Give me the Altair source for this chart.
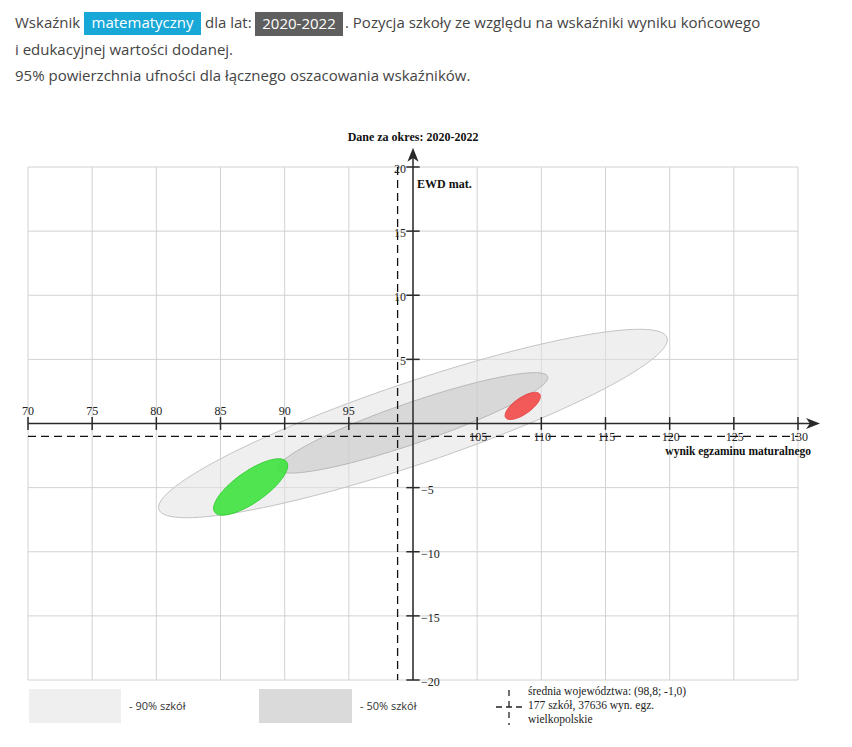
import altair as alt
import pandas as pd

W, H = 852, 747

# ---------------- data ----------------
x_ticks = [70, 75, 80, 85, 90, 95, 100, 105, 110, 115, 120, 125, 130]
y_ticks = [-20, -15, -10, -5, 0, 5, 10, 15, 20]

origin_x = 100
origin_y = 0

mean_x = 98.8
mean_y = -1.0
n_schools = 177
n_exams = 37636
region = "wielkopolskie"
period = "2020-2022"
subject = "matematyczny"

# confidence ellipses (center, semi-axes, rotation in degrees)
ell_names = ["90% szkół", "50% szkół", "szkoła A", "szkoła B"]
ell_cx = [100.0, 100.0, 87.35, 108.55]
ell_cy = [0.0, 0.05, -4.95, 1.37]
ell_a = [20.9, 11.1, 3.42, 1.61]
ell_b = [3.18, 1.59, 1.21, 0.64]
ell_ang = [18.7, 19.0, 35.0, 34.7]

# styles
ell_fill = ["#e2e2e2", "#c2c2c2", "#3fe23f", "#f24848"]
ell_fill_op = [0.55, 0.5, 0.9, 0.9]
ell_stroke = ["#c4c4c4", "#b8b8b8", "#36d036", "#e84444"]

SERIF = "Liberation Serif"
SANS = "Open Sans"

xs = alt.Scale(domain=[70, 130], range=[28, 798], nice=False, zero=False)
ys = alt.Scale(domain=[-20, 20], range=[680, 167], nice=False, zero=False)

dummy = alt.Data(values=[{"d": 0}])


def XQ(f):
    return alt.X(f, type="quantitative", scale=xs, axis=None)


def YQ(f):
    return alt.Y(f, type="quantitative", scale=ys, axis=None)


def txt(s, x, y, **kw):
    return alt.Chart(dummy).mark_text(text=s, **kw).encode(
        x=alt.value(x), y=alt.value(y))


def prect(x1, x2, y1, y2, **kw):
    return alt.Chart(dummy).mark_rect(**kw).encode(
        x=alt.value(x1), x2=alt.value(x2), y=alt.value(y1), y2=alt.value(y2))


def prule(x1, x2, y1, y2, **kw):
    return alt.Chart(dummy).mark_rule(**kw).encode(
        x=alt.value(x1), x2=alt.value(x2), y=alt.value(y1), y2=alt.value(y2))


layers = []

# ---------------- grid ----------------
xt = pd.DataFrame({"v": x_ticks})
yt = pd.DataFrame({"v": y_ticks})
layers.append(alt.Chart(xt).mark_rule(color="#d2d2d2", strokeWidth=1).encode(
    x=XQ("v"), y=alt.Y(datum=y_ticks[0], scale=ys, axis=None), y2=alt.Y2(datum=y_ticks[-1])))
layers.append(alt.Chart(yt).mark_rule(color="#d2d2d2", strokeWidth=1).encode(
    y=YQ("v"), x=alt.X(datum=x_ticks[0], scale=xs, axis=None), x2=alt.X2(datum=x_ticks[-1])))

# ---------------- ellipses ----------------
for i in range(len(ell_names)):
    cx, cy, a, b, ang = ell_cx[i], ell_cy[i], ell_a[i], ell_b[i], ell_ang[i]
    ex = (f"{cx} + {a}*cos(datum.t*PI/180)*cos({ang}*PI/180)"
          f" - {b}*sin(datum.t*PI/180)*sin({ang}*PI/180)")
    ey = (f"{cy} + {a}*cos(datum.t*PI/180)*sin({ang}*PI/180)"
          f" + {b}*sin(datum.t*PI/180)*cos({ang}*PI/180)")
    layers.append(
        alt.Chart(alt.sequence(0, 361, 3, as_="t"))
        .transform_calculate(ex=ex, ey=ey)
        .mark_line(fill=ell_fill[i], fillOpacity=ell_fill_op[i],
                   stroke=ell_stroke[i], strokeWidth=1)
        .encode(x=XQ("ex"), y=YQ("ey"), order=alt.Order("t:Q"))
    )

# ---------------- mean (dashed) lines ----------------
layers.append(alt.Chart(dummy).mark_rule(color="#111", strokeWidth=1.3, strokeDash=[8, 5]).encode(
    y=alt.Y(datum=mean_y, scale=ys, axis=None),
    x=alt.X(datum=x_ticks[0], scale=xs, axis=None), x2=alt.X2(datum=x_ticks[-1])))
layers.append(alt.Chart(dummy).mark_rule(color="#111", strokeWidth=1.3, strokeDash=[8, 5]).encode(
    x=alt.X(datum=mean_x, scale=xs, axis=None),
    y=alt.Y(datum=y_ticks[-1], scale=ys, axis=None), y2=alt.Y2(datum=y_ticks[0])))

# ---------------- axes through origin ----------------
AX = "#2a2a2a"
layers.append(alt.Chart(dummy).mark_rule(color=AX, strokeWidth=1.5).encode(
    y=alt.Y(datum=origin_y, scale=ys, axis=None),
    x=alt.X(datum=x_ticks[0], scale=xs, axis=None), x2=alt.X2(datum=131.3)))
layers.append(alt.Chart(dummy).mark_rule(color=AX, strokeWidth=1.5).encode(
    x=alt.X(datum=origin_x, scale=xs, axis=None),
    y=alt.Y(datum=y_ticks[0], scale=ys, axis=None), y2=alt.Y2(datum=21.0)))

arrow = "M1,0 L-1,-0.8 L-0.45,0 L-1,0.8 Z"
layers.append(alt.Chart(dummy).mark_point(shape=arrow, filled=True, color=AX, size=196, opacity=1).encode(
    x=alt.X(datum=131.17, scale=xs, axis=None), y=alt.Y(datum=origin_y, scale=ys, axis=None)))
layers.append(alt.Chart(dummy).mark_point(shape=arrow, filled=True, color=AX, size=196, opacity=1, angle=270).encode(
    x=alt.X(datum=origin_x, scale=xs, axis=None), y=alt.Y(datum=20.95, scale=ys, axis=None)))

# ticks
layers.append(alt.Chart(xt).transform_filter(f"datum.v != {origin_x}").mark_rule(color=AX, strokeWidth=1.5).encode(
    x=XQ("v"), y=alt.Y(datum=-0.5, scale=ys, axis=None), y2=alt.Y2(datum=0.5)))
layers.append(alt.Chart(yt).transform_filter(f"datum.v != {origin_y}").mark_rule(color=AX, strokeWidth=1.5).encode(
    y=YQ("v"), x=alt.X(datum=99.48, scale=xs, axis=None), x2=alt.X2(datum=100.52)))

# tick labels
lab = dict(font=SERIF, fontSize=12, color="#222", baseline="middle")
layers.append(alt.Chart(xt).transform_filter(f"datum.v < {origin_x}").mark_text(align="center", dy=-13, **lab).encode(
    x=XQ("v"), y=alt.Y(datum=origin_y, scale=ys, axis=None), text="v:Q"))
layers.append(alt.Chart(xt).transform_filter(f"datum.v > {origin_x}").mark_text(align="center", dy=13, dx=1, **lab).encode(
    x=XQ("v"), y=alt.Y(datum=origin_y, scale=ys, axis=None), text="v:Q"))
layers.append(alt.Chart(yt).transform_filter(f"datum.v > {origin_y}").mark_text(align="right", dx=-7, dy=2, **lab).encode(
    y=YQ("v"), x=alt.X(datum=origin_x, scale=xs, axis=None), text="v:Q"))
layers.append(alt.Chart(yt).transform_filter(f"datum.v < {origin_y}").mark_text(align="left", dx=8, dy=2, **lab).encode(
    y=YQ("v"), x=alt.X(datum=origin_x, scale=xs, axis=None), text="v:Q"))

# axis titles
layers.append(txt(f"Dane za okres: {period}", 413, 137, font=SERIF, fontSize=12, fontWeight="bold",
                  align="center", baseline="middle", color="#111"))
layers.append(txt("EWD mat.", 417, 184, font=SERIF, fontSize=12, fontWeight="bold",
                  align="left", baseline="middle", color="#111"))
layers.append(txt("wynik egzaminu maturalnego", 811, 452, font=SERIF, fontSize=11.5, fontWeight="bold",
                  align="right", baseline="middle", color="#111"))

# ---------------- legend ----------------
layers.append(prect(29, 121, 689, 723, fill="#efefef"))
layers.append(txt("- " + ell_names[0], 129, 707, font=SANS, fontSize=11, align="left", baseline="middle", color="#333"))
layers.append(prect(259, 352, 689, 723, fill="#dadada"))
layers.append(txt("- " + ell_names[1], 360, 707, font=SANS, fontSize=11, align="left", baseline="middle", color="#333"))
layers.append(prule(496, 523, 707, 707, color="#222", strokeWidth=1.3, strokeDash=[6, 4]))
layers.append(prule(509, 509, 690, 725, color="#222", strokeWidth=1.3, strokeDash=[6, 5]))
mean_txt = f"średnia województwa: ({mean_x:.1f}; {mean_y:.1f})".replace(".", ",")
leg = dict(font=SERIF, fontSize=11.5, align="left", baseline="middle", color="#222")
layers.append(txt(mean_txt, 528, 692, **leg))
layers.append(txt(f"{n_schools} szkół, {n_exams} wyn. egz.", 528, 706, **leg))
layers.append(txt(region, 528, 720, **leg))

# ---------------- header ----------------
hd = dict(font=SANS, fontSize=15, baseline="middle", color="#444")
layers.append(txt("Wskaźnik", 15, 23, align="left", **hd))
layers.append(prect(84, 201, 12, 35, fill="#17a8d8"))
layers.append(txt(subject, 142.5, 23, align="center", font=SANS, fontSize=15, baseline="middle", color="white"))
layers.append(txt("dla lat:", 205, 23, align="left", **hd))
layers.append(prect(255, 343, 12, 36, fill="#5f5f5f"))
layers.append(txt(period, 299, 24, align="center", font=SANS, fontSize=15, baseline="middle", color="white"))
layers.append(txt(". Pozycja szkoły ze względu na wskaźniki wyniku końcowego", 345, 23, align="left", **hd))
layers.append(txt("i edukacyjnej wartości dodanej.", 15, 50, align="left", **hd))
layers.append(txt("95% powierzchnia ufności dla łącznego oszacowania wskaźników.", 15, 76, align="left", **hd))

chart = alt.layer(*layers).properties(
    width=W, height=H,
    autosize=alt.AutoSizeParams(type="none"),
    padding=0,
    background="white",
).configure_view(strokeWidth=0)

chart.save("out.html", embed_options={"renderer": "svg", "actions": False})
